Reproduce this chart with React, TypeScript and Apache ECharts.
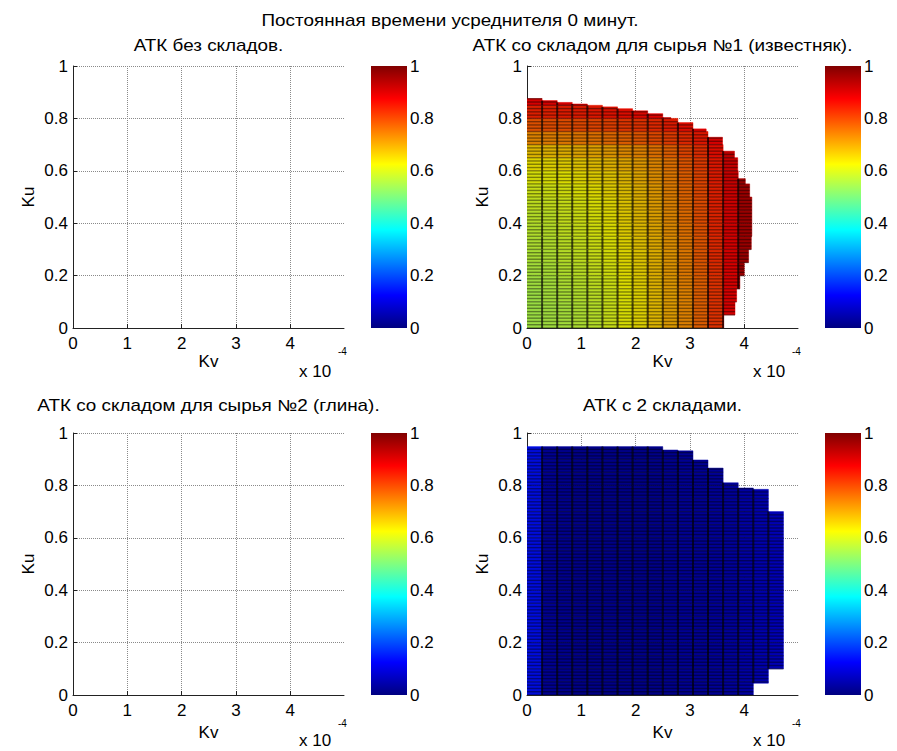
import React, { useEffect, useRef } from 'react';
import * as echarts from 'echarts';

// ---------- texts ----------
const MAIN_TITLE = 'Постоянная времени усреднителя 0 минут.';
const PANEL_TITLES = [
  'АТК без складов.',
  'АТК со складом для сырья №1 (известняк).',
  'АТК со складом для сырья №2 (глина).',
  'АТК с 2 складами.',
];
const X_NAME = 'Kv';
const Y_NAME = 'Ku';
const X_EXP_BASE = 'x 10';
const X_EXP_POWER = '-4';

// ---------- data (Kv in units of 1e-4) ----------
const KV_NODES = [0, 0.278, 0.556, 0.833, 1.111, 1.389, 1.667, 1.944, 2.222, 2.5, 2.778, 3.056, 3.333, 3.611, 3.889, 4.167, 4.444, 4.722];
const KU_BANDS = [0, 0.05, 0.1, 0.15, 0.2, 0.25, 0.3, 0.35, 0.4, 0.45, 0.5, 0.55, 0.6, 0.65, 0.7, 0.75, 0.8, 0.85, 0.9, 0.95];

// Panel 2 (storage for raw material 1): value per Ku band (rows) and Kv column
const Z1 = [
  [0.55, 0.555, 0.56, 0.57, 0.58, 0.6, 0.62, 0.64, 0.67, 0.7, 0.73, 0.77, 0.82, 0.88, 0.95],
  [0.55, 0.555, 0.56, 0.57, 0.58, 0.6, 0.62, 0.64, 0.67, 0.7, 0.73, 0.77, 0.82, 0.88, 0.95],
  [0.55, 0.56, 0.565, 0.575, 0.585, 0.6, 0.62, 0.64, 0.67, 0.7, 0.73, 0.77, 0.82, 0.88, 0.95],
  [0.555, 0.56, 0.57, 0.58, 0.59, 0.605, 0.625, 0.645, 0.675, 0.705, 0.735, 0.77, 0.82, 0.88, 0.95],
  [0.56, 0.565, 0.575, 0.585, 0.595, 0.61, 0.63, 0.65, 0.68, 0.71, 0.74, 0.775, 0.825, 0.88, 0.95],
  [0.565, 0.57, 0.58, 0.59, 0.6, 0.615, 0.635, 0.655, 0.68, 0.71, 0.74, 0.78, 0.83, 0.885, 0.95],
  [0.57, 0.575, 0.585, 0.595, 0.605, 0.62, 0.64, 0.66, 0.685, 0.715, 0.745, 0.78, 0.83, 0.885, 0.95],
  [0.575, 0.58, 0.59, 0.6, 0.61, 0.625, 0.645, 0.665, 0.69, 0.72, 0.75, 0.785, 0.835, 0.89, 0.95],
  [0.58, 0.585, 0.595, 0.605, 0.615, 0.63, 0.65, 0.67, 0.695, 0.725, 0.755, 0.79, 0.835, 0.89, 0.95],
  [0.59, 0.595, 0.6, 0.61, 0.62, 0.635, 0.655, 0.675, 0.7, 0.73, 0.76, 0.79, 0.84, 0.89, 0.95],
  [0.6, 0.605, 0.61, 0.62, 0.63, 0.645, 0.66, 0.68, 0.705, 0.735, 0.765, 0.795, 0.84, 0.895, 0.95],
  [0.615, 0.62, 0.625, 0.635, 0.645, 0.655, 0.67, 0.69, 0.715, 0.74, 0.77, 0.8, 0.845, 0.9, 0.95],
  [0.635, 0.64, 0.645, 0.655, 0.665, 0.675, 0.69, 0.705, 0.725, 0.75, 0.78, 0.81, 0.85, 0.9, 0.96],
  [0.67, 0.675, 0.68, 0.69, 0.695, 0.705, 0.72, 0.73, 0.75, 0.77, 0.8, 0.825, 0.86, 0.91, 0.96],
  [0.73, 0.735, 0.74, 0.745, 0.75, 0.76, 0.77, 0.78, 0.795, 0.81, 0.83, 0.85, 0.88, 0.92, 0.96],
  [0.785, 0.79, 0.79, 0.795, 0.8, 0.805, 0.815, 0.82, 0.83, 0.845, 0.86, 0.88, 0.9, 0.93, 0.97],
  [0.84, 0.84, 0.845, 0.845, 0.85, 0.855, 0.86, 0.865, 0.87, 0.88, 0.89, 0.905, 0.92, 0.95, 0.97],
  [0.88, 0.88, 0.885, 0.885, 0.89, 0.89, 0.895, 0.9, 0.9, 0.91, 0.915, 0.925, 0.94, 0.96, 0.97],
];
// upper Ku limit of each Kv column, right Kv limit of each Ku band
const TOP1 = [0.876, 0.868, 0.861, 0.855, 0.85, 0.844, 0.837, 0.829, 0.818, 0.803, 0.784, 0.76, 0.728, 0.675, 0.57];
const RIGHT1 = [3.62, 3.83, 3.86, 3.92, 4.0, 4.08, 4.13, 4.14, 4.14, 4.14, 4.1, 4.02, 3.88, 3.82, 3.6, 3.3, 2.65, 4.2];

// Panel 4 (two storages): value per Kv column, Ku limits per column
const Z2 = [0.14, 0.04, 0.035, 0.03, 0.03, 0.03, 0.03, 0.03, 0.03, 0.035, 0.04, 0.04, 0.045, 0.05, 0.06, 0.07, 0.08];
const TOP2 = [0.948, 0.948, 0.948, 0.948, 0.948, 0.948, 0.948, 0.948, 0.948, 0.935, 0.932, 0.897, 0.866, 0.81, 0.79, 0.785, 0.7];
const BOTTOM2 = [0, 0, 0, 0, 0, 0, 0, 0, 0, 0, 0, 0, 0, 0, 0, 0.045, 0.1];

// ---------- style ----------
const JET = ['#000080', '#0000FF', '#0080FF', '#00FFFF', '#80FF80', '#FFFF00', '#FF8000', '#FF0000', '#800000'];
const FONT = "'Liberation Sans', Arial, sans-serif";
const FS = 17;
const TITLE_FS = 16;
const TITLE_SX = 1.18;
const MESH_KU = 0.0125;
const PLOTS = [
  { left: 73, top: 66 },
  { left: 527, top: 66 },
  { left: 73, top: 433 },
  { left: 527, top: 433 },
];
const PW = 271;
const PH = 262;
const CB_OFFSET = 298;
const CB_W = 36;

function cells1() {
  const out: number[][] = [];
  for (let i = 0; i < Z1.length; i++) {
    for (let j = 0; j < Z1[i].length; j++) {
      const x0 = KV_NODES[j];
      const x1 = Math.min(KV_NODES[j + 1], RIGHT1[i]);
      const y0 = KU_BANDS[i];
      const y1 = Math.min(KU_BANDS[i + 1], TOP1[j]);
      if (x1 > x0 && y1 > y0) out.push([x0, x1, y0, y1, Z1[i][j]]);
    }
  }
  return out;
}

function cells2() {
  const out: number[][] = [];
  for (let j = 0; j < Z2.length; j++) {
    for (let i = 0; i < KU_BANDS.length - 1; i++) {
      const y0 = Math.max(KU_BANDS[i], BOTTOM2[j]);
      const y1 = Math.min(KU_BANDS[i + 1], TOP2[j]);
      if (y1 > y0) out.push([KV_NODES[j], KV_NODES[j + 1], y0, y1, Z2[j]]);
    }
  }
  return out;
}

function renderCell(_params: any, api: any) {
  const x0 = api.value(0);
  const x1 = api.value(1);
  const y0 = api.value(2);
  const y1 = api.value(3);
  const a = api.coord([x0, y0]);
  const b = api.coord([x1, y1]);
  const color = api.visual('color');
  const shape = { x: a[0], y: b[1], width: b[0] - a[0], height: a[1] - b[1] };
  const children: any[] = [
    { type: 'rect', shape, style: { fill: color, stroke: color, lineWidth: 0.5 } },
    { type: 'rect', shape, style: { fill: 'rgba(0,0,0,0.14)' } },
  ];
  const k0 = Math.ceil(y0 / MESH_KU - 1e-6);
  for (let k = k0; k * MESH_KU < y1 - 1e-6; k++) {
    const yy = api.coord([x0, k * MESH_KU])[1];
    children.push({
      type: 'line',
      shape: { x1: a[0], y1: yy, x2: b[0], y2: yy },
      style: { stroke: 'rgba(0,0,0,0.42)', lineWidth: 1.4 },
    });
  }
  if (x0 > 0) {
    children.push({
      type: 'line',
      shape: { x1: a[0], y1: a[1], x2: a[0], y2: b[1] },
      style: { stroke: 'rgba(0,0,0,0.7)', lineWidth: 2 },
    });
  }
  return { type: 'group', children };
}

function renderColorbar(_params: any, api: any) {
  const a = api.coord([0, 0]);
  const b = api.coord([1, 1]);
  return {
    type: 'rect',
    shape: { x: a[0], y: b[1], width: b[0] - a[0], height: a[1] - b[1] },
    style: {
      fill: {
        type: 'linear',
        x: 0, y: 1, x2: 0, y2: 0,
        colorStops: JET.map((c, i) => ({ offset: i / (JET.length - 1), color: c })),
      },
    },
  };
}

function titleText(text: string, x: number, y: number) {
  return {
    type: 'text',
    x,
    y,
    scaleX: TITLE_SX,
    style: { text, font: `${TITLE_FS}px ${FONT}`, fill: '#000', textAlign: 'center', textVerticalAlign: 'middle' },
  };
}

function buildOption() {
  const grid: any[] = [];
  const xAxis: any[] = [];
  const yAxis: any[] = [];
  const graphic: any[] = [];
  const textBase = { fontFamily: FONT, fontSize: FS, color: '#000' };

  PLOTS.forEach((p, idx) => {
    grid.push({ left: p.left, top: p.top, width: PW, height: PH, containLabel: false });
    const bottomRow = idx >= 2;
    xAxis.push({
      gridIndex: idx,
      type: 'value',
      min: 0,
      max: 4.99,
      interval: 1,
      name: X_NAME,
      nameLocation: 'middle',
      nameGap: bottomRow ? 29 : 25,
      nameTextStyle: textBase,
      axisLine: { show: true, onZero: false, lineStyle: { color: '#222', width: 1 } },
      axisTick: { show: true, inside: true, length: 4, lineStyle: { color: '#222' } },
      axisLabel: { ...textBase, margin: 7, showMaxLabel: false },
      splitLine: { show: true, showMinLine: false, showMaxLine: false, lineStyle: { type: 'dotted', color: '#8a8a8a', width: 1 } },
    });
    yAxis.push({
      gridIndex: idx,
      type: 'value',
      min: 0,
      max: 1,
      interval: 0.2,
      name: Y_NAME,
      nameLocation: 'middle',
      nameGap: 36,
      nameTextStyle: textBase,
      axisLine: { show: true, onZero: false, lineStyle: { color: '#222', width: 1 } },
      axisTick: { show: true, inside: true, length: 4, lineStyle: { color: '#222' } },
      axisLabel: { ...textBase, margin: 5 },
      splitLine: { show: true, showMinLine: false, lineStyle: { type: 'dotted', color: '#8a8a8a', width: 1 } },
    });
  });

  PLOTS.forEach((p, idx) => {
    const gi = 4 + idx;
    grid.push({ left: p.left + CB_OFFSET, top: p.top, width: CB_W, height: PH, containLabel: false });
    xAxis.push({ gridIndex: gi, type: 'value', min: 0, max: 1, show: false });
    yAxis.push({
      gridIndex: gi,
      type: 'value',
      min: 0,
      max: 1,
      interval: 0.2,
      position: 'right',
      axisLine: { show: false },
      axisTick: { show: false },
      axisLabel: { ...textBase, margin: 3 },
      splitLine: { show: false },
    });
  });

  graphic.push(titleText(MAIN_TITLE, 450, 21));
  const titleY = [46, 46, 406, 406];
  PLOTS.forEach((p, idx) => {
    graphic.push(titleText(PANEL_TITLES[idx], p.left + PW / 2, titleY[idx]));
    const bottomRow = idx >= 2;
    graphic.push({
      type: 'text',
      x: p.left + 226,
      y: bottomRow ? 740 : 371,
      style: { text: X_EXP_BASE, font: `${FS}px ${FONT}`, fill: '#000', textAlign: 'left', textVerticalAlign: 'middle' },
    });
    graphic.push({
      type: 'text',
      x: p.left + 265,
      y: bottomRow ? 723 : 351,
      style: { text: X_EXP_POWER, font: `10px ${FONT}`, fill: '#000', textAlign: 'left', textVerticalAlign: 'middle' },
    });
  });

  const series: any[] = [
    {
      type: 'custom',
      name: 'surf1',
      xAxisIndex: 1,
      yAxisIndex: 1,
      renderItem: renderCell,
      encode: { x: [0, 1], y: [2, 3] },
      data: cells1(),
      clip: true,
      silent: true,
    },
    {
      type: 'custom',
      name: 'surf2',
      xAxisIndex: 3,
      yAxisIndex: 3,
      renderItem: renderCell,
      encode: { x: [0, 1], y: [2, 3] },
      data: cells2(),
      clip: true,
      silent: true,
    },
  ];
  for (let i = 0; i < 4; i++) {
    series.push({
      type: 'custom',
      xAxisIndex: 4 + i,
      yAxisIndex: 4 + i,
      renderItem: renderColorbar,
      data: [[0, 1, 0, 1]],
      silent: true,
    });
  }

  return {
    animation: false,
    backgroundColor: '#fff',
    textStyle: { fontFamily: FONT },
    grid,
    xAxis,
    yAxis,
    visualMap: [
      { show: false, type: 'continuous', seriesIndex: 0, dimension: 4, min: 0, max: 1, inRange: { color: JET } },
      { show: false, type: 'continuous', seriesIndex: 1, dimension: 4, min: 0, max: 1, inRange: { color: JET } },
    ],
    series,
    graphic,
  };
}

export default function App() {
  const ref = useRef<HTMLDivElement>(null);
  useEffect(() => {
    if (!ref.current) return;
    const chart = echarts.init(ref.current, null, { renderer: 'svg' });
    chart.setOption(buildOption() as any);
    return () => chart.dispose();
  }, []);
  return (
    <div
      ref={ref}
      style={{ position: 'absolute', left: 0, top: 0, width: 897, height: 751, background: '#fff' }}
    />
  );
}
